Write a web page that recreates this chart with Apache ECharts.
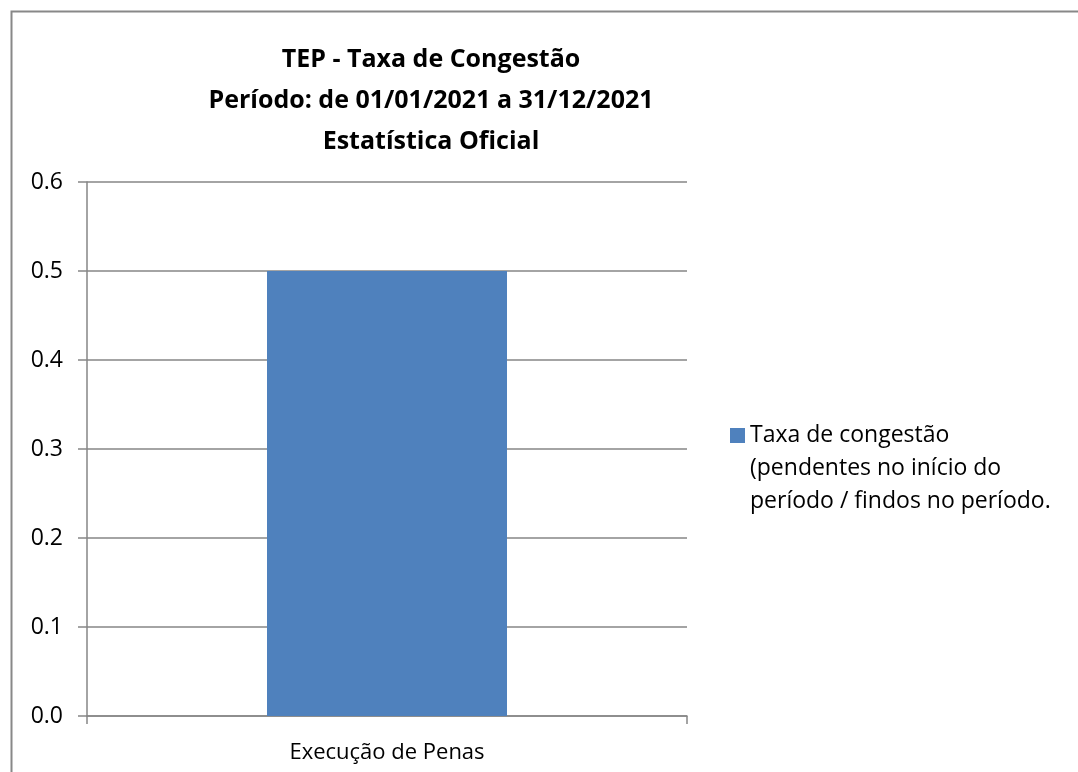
<!DOCTYPE html>
<html>
<head>
<meta charset="utf-8">
<script src="https://cdn.jsdelivr.net/npm/echarts@6/dist/echarts.min.js"></script>
<style>
  html, body { margin: 0; padding: 0; background: #fff; overflow: hidden; }
  #chart { width: 1078px; height: 772px; }
</style>
</head>
<body>
<div id="chart"></div>
<script>
// dados
const categories = ['Execução de Penas']
const seriesName = 'Taxa de congestão\n(pendentes no início do\nperíodo / findos no período.'
const values = [0.5]
const yTicks = [0, 0.1, 0.2, 0.3, 0.4, 0.5, 0.6]

const font = '"Open Sans", "Liberation Sans", sans-serif'
const axisColor = '#868686'

let myChart = echarts.init(document.getElementById('chart'))
let option = {
  animation: false,
  backgroundColor: '#fff',
  textStyle: { fontFamily: font },
  title: {
    text: 'TEP - Taxa de Congestão\nPeríodo: de 01/01/2021 a 31/12/2021\nEstatística Oficial',
    left: 431,
    top: 39,
    padding: 0,
    textAlign: 'center',
    textStyle: {
      fontFamily: font,
      fontSize: 25,
      fontWeight: 'bold',
      color: '#000',
      lineHeight: 41
    }
  },
  graphic: [
    {
      type: 'rect',
      shape: { x: 11.5, y: 11.5, width: 1200, height: 900 },
      style: { fill: 'none', stroke: '#888', lineWidth: 2 },
      silent: true
    }
  ],
  legend: {
    left: 730,
    top: 353,
    padding: 0,
    itemWidth: 15,
    itemHeight: 15,
    itemGap: 0,
    icon: 'rect',
    // duas linhas vazias antes para alinhar o ícone com a 1ª linha
    formatter: name => '\n\n' + name,
    textStyle: {
      fontFamily: font,
      fontSize: 23,
      color: '#000',
      lineHeight: 33
    }
  },
  grid: {
    left: 87,
    right: 391,
    top: 182,
    bottom: 56,
    containLabel: false
  },
  xAxis: {
    type: 'category',
    data: categories,
    boundaryGap: true,
    axisLine: { lineStyle: { color: axisColor, width: 1.5 } },
    axisTick: { show: true, length: 8, alignWithLabel: false, lineStyle: { color: axisColor, width: 1.5 } },
    axisLabel: { color: '#000', fontSize: 22, margin: 26, fontFamily: font }
  },
  yAxis: {
    type: 'value',
    min: yTicks[0],
    max: yTicks[yTicks.length - 1],
    interval: 0.1,
    axisLine: { show: true, lineStyle: { color: axisColor, width: 1.5 } },
    axisTick: { show: true, length: 9, lineStyle: { color: axisColor, width: 1.5 } },
    splitLine: { show: true, lineStyle: { color: axisColor, width: 1.5 } },
    axisLabel: {
      color: '#000',
      fontSize: 23,
      margin: 24,
      fontFamily: font,
      formatter: v => v.toFixed(1)
    }
  },
  series: [
    {
      name: seriesName,
      type: 'bar',
      data: values,
      barWidth: '40%',
      itemStyle: { color: '#4F81BD' }
    }
  ]
}
option && myChart.setOption(option)
</script>
</body>
</html>
